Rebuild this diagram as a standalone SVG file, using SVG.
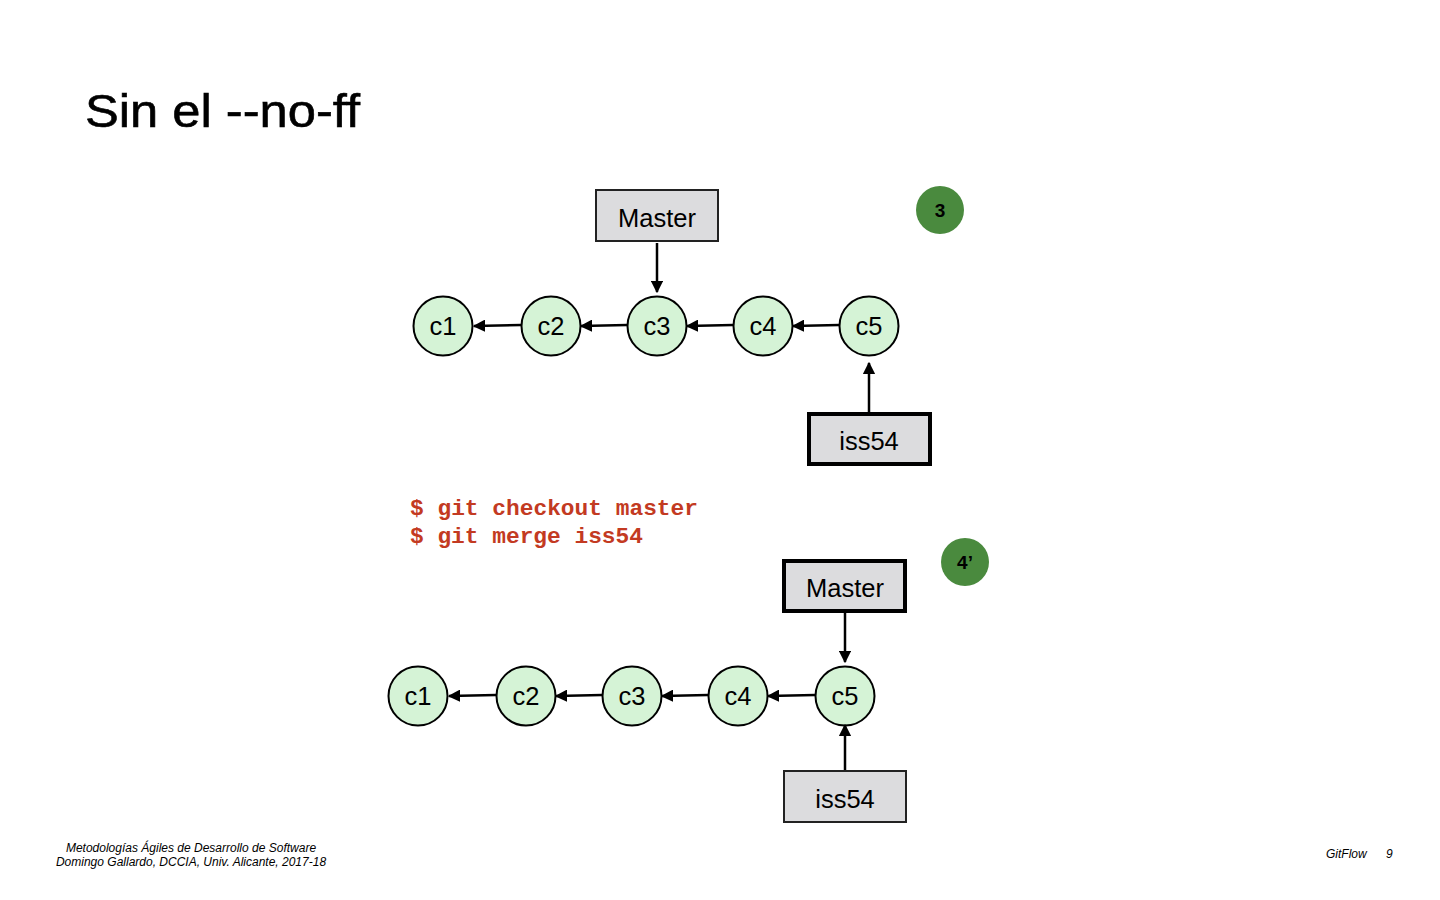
<svg xmlns="http://www.w3.org/2000/svg" width="1440" height="900" viewBox="0 0 1440 900">
  <style>
    .commit { fill: #d5f3d6; stroke: #000; stroke-width: 2; }
    .ref { fill: #dcdcde; stroke: #222; stroke-width: 2; }
    .ref-active { fill: #dcdcde; stroke: #000; stroke-width: 4; }
    .label { font-family: "Liberation Sans", Arial, sans-serif; font-size: 25.5px; fill: #000; text-anchor: middle; }
    .badge { fill: #4a8a3e; }
    .badge-text { font-family: "Liberation Sans", Arial, sans-serif; font-size: 19px; font-weight: bold; fill: #000; text-anchor: middle; }
    .cmd { font-family: "Liberation Mono", "Courier New", monospace; font-size: 22.5px; font-weight: bold; fill: #c33a22; }
    .foot { font-family: "Liberation Sans", Arial, sans-serif; font-size: 12px; font-style: italic; fill: #000; }
    .edge { stroke: #000; stroke-width: 2.5; fill: none; marker-end: url(#arrow); }
  </style>
  <defs>
    <marker id="arrow" viewBox="0 0 10 10" refX="9" refY="5" markerWidth="5" markerHeight="5" markerUnits="strokeWidth" orient="auto">
      <path d="M0,0 L10,5 L0,10 z" fill="#000"/>
    </marker>
  </defs>

  <rect width="1440" height="900" fill="#fff"/>

  <text x="85" y="127" font-family="Liberation Sans, Arial, sans-serif" font-size="47" fill="#000" stroke="#000" stroke-width="0.6" textLength="275" lengthAdjust="spacingAndGlyphs">Sin el --no-ff</text>

  <!-- upper graph: before merge -->
  <g id="top-master"><rect class="ref" x="596" y="190" width="122" height="51"/><text class="label" x="657" y="227">Master</text></g>
  <g id="top-badge"><circle class="badge" cx="940" cy="210" r="24"/><text class="badge-text" x="940" y="217">3</text></g>
  <g id="top-c1"><circle class="commit" cx="443" cy="326" r="29.5"/><text class="label" x="443" y="335">c1</text></g>
  <g id="top-c2"><circle class="commit" cx="551" cy="326" r="29.5"/><text class="label" x="551" y="335">c2</text></g>
  <g id="top-c3"><circle class="commit" cx="657" cy="326" r="29.5"/><text class="label" x="657" y="335">c3</text></g>
  <g id="top-c4"><circle class="commit" cx="763" cy="326" r="29.5"/><text class="label" x="763" y="335">c4</text></g>
  <g id="top-c5"><circle class="commit" cx="869" cy="326" r="29.5"/><text class="label" x="869" y="335">c5</text></g>
  <g id="top-iss54"><rect class="ref-active" x="809" y="414" width="121" height="50"/><text class="label" x="869" y="450">iss54</text></g>

  <!-- commands -->
  <g id="commands">
    <text class="cmd" x="410" y="515" textLength="288" lengthAdjust="spacingAndGlyphs">$ git checkout master</text>
    <text class="cmd" x="410" y="543" textLength="233" lengthAdjust="spacingAndGlyphs">$ git merge iss54</text>
  </g>

  <!-- lower graph: after fast-forward -->
  <g id="bot-master"><rect class="ref-active" x="784" y="561" width="121" height="50"/><text class="label" x="845" y="597">Master</text></g>
  <g id="bot-badge"><circle class="badge" cx="965" cy="562" r="24"/><text class="badge-text" x="965" y="569">4’</text></g>
  <g id="bot-c1"><circle class="commit" cx="418" cy="696" r="29.5"/><text class="label" x="418" y="705">c1</text></g>
  <g id="bot-c2"><circle class="commit" cx="526" cy="696" r="29.5"/><text class="label" x="526" y="705">c2</text></g>
  <g id="bot-c3"><circle class="commit" cx="632" cy="696" r="29.5"/><text class="label" x="632" y="705">c3</text></g>
  <g id="bot-c4"><circle class="commit" cx="738" cy="696" r="29.5"/><text class="label" x="738" y="705">c4</text></g>
  <g id="bot-c5"><circle class="commit" cx="845" cy="696" r="29.5"/><text class="label" x="845" y="705">c5</text></g>
  <g id="bot-iss54"><rect class="ref" x="784" y="771" width="122" height="51"/><text class="label" x="845" y="808">iss54</text></g>

  <g id="connectors">
    <line class="edge" x1="657" y1="243" x2="657" y2="292"/>
    <line class="edge" x1="521" y1="325" x2="474" y2="326"/>
    <line class="edge" x1="627" y1="325" x2="581" y2="326"/>
    <line class="edge" x1="733" y1="325" x2="687" y2="326"/>
    <line class="edge" x1="839" y1="325" x2="793" y2="326"/>
    <line class="edge" x1="869" y1="412" x2="869" y2="363"/>

    <line class="edge" x1="845" y1="613" x2="845" y2="662"/>
    <line class="edge" x1="496" y1="695" x2="449" y2="696"/>
    <line class="edge" x1="602" y1="695" x2="556" y2="696"/>
    <line class="edge" x1="708" y1="695" x2="662" y2="696"/>
    <line class="edge" x1="815" y1="695" x2="768" y2="696"/>
    <line class="edge" x1="845" y1="770" x2="845" y2="725"/>
  </g>

  <g id="footer">
    <text class="foot" x="191" y="852" text-anchor="middle">Metodologías Ágiles de Desarrollo de Software</text>
    <text class="foot" x="191" y="866" text-anchor="middle">Domingo Gallardo, DCCIA, Univ. Alicante, 2017-18</text>
    <text class="foot" x="1326" y="858">GitFlow</text>
    <text class="foot" x="1386" y="858">9</text>
  </g>
</svg>
